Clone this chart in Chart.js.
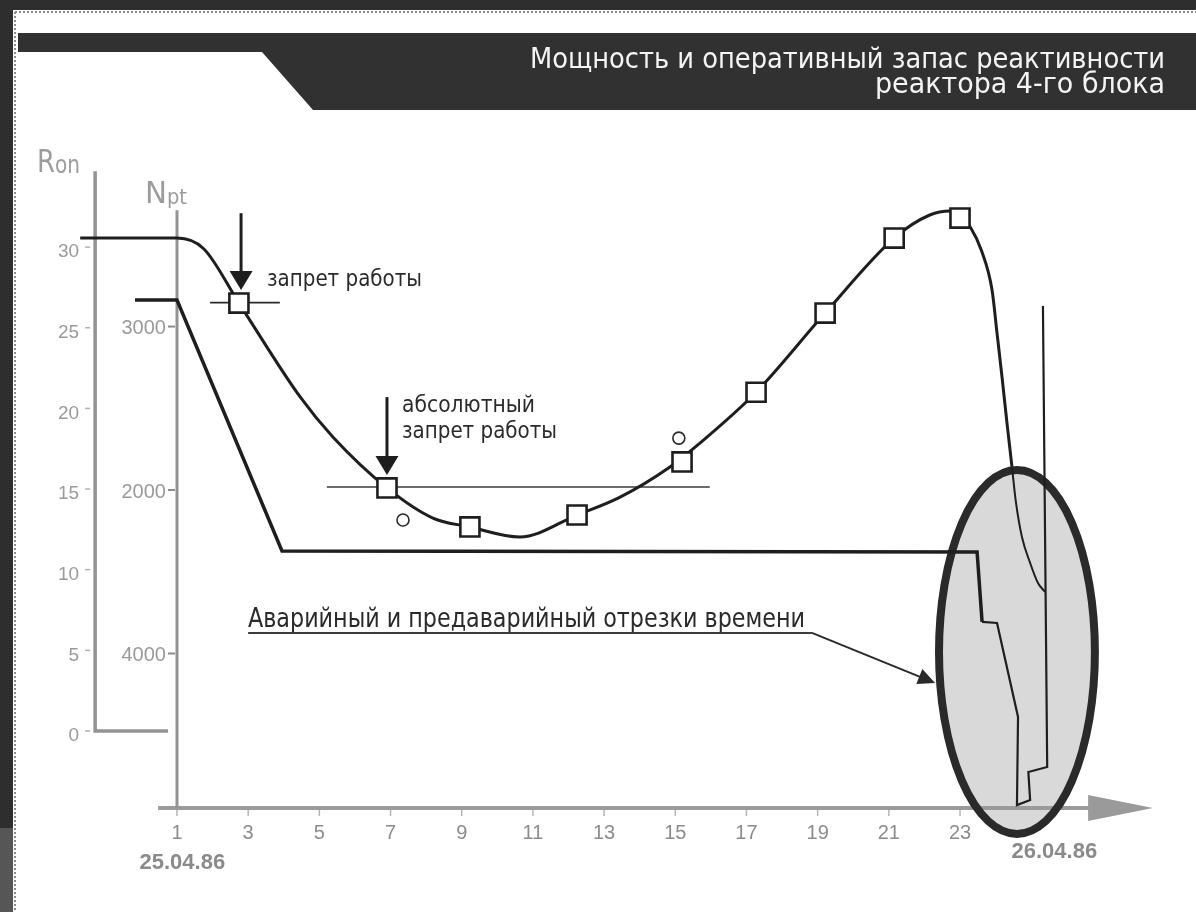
<!DOCTYPE html>
<html>
<head>
<meta charset="utf-8">
<title>Мощность и оперативный запас реактивности</title>
<script src="https://cdn.jsdelivr.net/npm/chart.js@4.4.1/dist/chart.umd.min.js"></script>
<style>
  html, body { margin: 0; padding: 0; background: #fff; }
  canvas { display: block; }
</style>
</head>
<body>
<canvas id="grafico" width="1196" height="912"></canvas>
<script>

// ---- data ----

const titleLines = ['Мощность и оперативный запас реактивности', 'реактора 4-го блока']

const hourTicks = [1, 3, 5, 7, 9, 11, 13, 15, 17, 19, 21, 23]
const dateStart = '25.04.86'
const dateEnd = '26.04.86'

const rTicks = [0, 5, 10, 15, 20, 25, 30]
const nTicks = [1000, 2000, 3000]
const nTickLabels = ['4000', '2000', '3000']

// R_on curve (operational reactivity margin)
const reactivityHours = [-1.72, 1.0, 1.75, 2.74, 4.46, 5.38, 6.9, 8.19, 9.23, 10.63, 12.24, 13.45,
  14.85, 15.7, 17.27, 19.21, 21.15, 22.15, 22.72, 23.0, 23.3, 23.6, 23.9, 24.04, 24.18, 24.32,
  24.46, 24.57, 24.74, 24.97, 25.19, 25.39]
const reactivityValues = [30.56, 30.56, 29.9, 26.53, 20.71, 18.23, 15.07, 13.2, 12.65, 12.03, 13.39, 14.5,
  16.37, 17.86, 21.0, 25.91, 30.56, 31.99, 32.24, 31.93, 31.2, 29.8, 27.34, 24.67, 21.95, 19.09,
  16.37, 14.2, 12.03, 10.42, 9.18, 8.62]

// measured points (squares) and the two circles
const squareHours = [2.74, 6.9, 9.23, 12.24, 15.19, 17.27, 19.21, 21.15, 23.0]
const squareValues = [26.53, 15.07, 12.65, 13.39, 16.68, 21.0, 25.91, 30.56, 31.8]
const circleHours = [7.35, 15.1]
const circleValues = [13.08, 18.16]

// N_pt curve (power)
const powerHours = [-0.18, 1.0, 3.95, 23.48, 23.62, 24.04, 24.63, 24.6, 24.97, 24.92, 25.45, 25.33]
const powerValues = [3162, 3162, 1627, 1621, 1193, 1187, 612, 73, 104, 275, 306, 3125]

// limit lines
const limitHighHours = [1.93, 3.89]
const limitHighValues = [26.56, 26.56]
const limitLowHours = [5.21, 15.97]
const limitLowValues = [15.13, 15.13]

// texts
const labelBan = 'запрет работы'
const labelAbsolute = ['абсолютный', 'запрет работы']
const labelEmergency = 'Аварийный и предаварийный отрезки времени'


// ---- drawing ----

const NARROW = '"Liberation Sans Narrow", "DejaVu Sans Condensed", "Liberation Sans", sans-serif'
const SANS = '"Liberation Sans", Arial, sans-serif'

function pontos(xs, ys) {
  return xs.map((x, i) => ({ x: x, y: ys[i] }))
}

// text squeezed/stretched to a given width
function texto(c, txt, x, y, width, font, color, align) {
  c.save()
  c.font = font
  c.fillStyle = color
  c.textBaseline = 'alphabetic'
  c.textAlign = align || 'left'
  const w = c.measureText(txt).width
  c.translate(x, y)
  c.scale(width / w, 1)
  c.fillText(txt, 0, 0)
  c.restore()
}

function seta(c, x1, y1, x2, y2, len, half, width, color) {
  const ang = Math.atan2(y2 - y1, x2 - x1)
  c.save()
  c.strokeStyle = color
  c.fillStyle = color
  c.lineWidth = width
  c.beginPath()
  c.moveTo(x1, y1)
  c.lineTo(x2 - Math.cos(ang) * len * 0.8, y2 - Math.sin(ang) * len * 0.8)
  c.stroke()
  c.beginPath()
  c.moveTo(x2, y2)
  c.lineTo(x2 - Math.cos(ang) * len - Math.sin(ang) * half, y2 - Math.sin(ang) * len + Math.cos(ang) * half)
  c.lineTo(x2 - Math.cos(ang) * len + Math.sin(ang) * half, y2 - Math.sin(ang) * len - Math.cos(ang) * half)
  c.closePath()
  c.fill()
  c.restore()
}

const desenho = {
  id: 'desenho',
  beforeDraw(chart) {
    const c = chart.ctx
    c.save()
    c.fillStyle = '#ffffff'
    c.fillRect(0, 0, 1196, 912)
    // outer dark frame
    c.fillStyle = '#2e2e2e'
    c.fillRect(0, 0, 1196, 10)
    c.fillRect(0, 0, 13, 912)
    c.fillStyle = '#565656'
    c.fillRect(0, 828, 13, 84)
    // dotted border
    c.strokeStyle = '#8a8a8a'
    c.lineWidth = 2
    c.setLineDash([2, 2])
    c.beginPath()
    c.moveTo(15, 12); c.lineTo(1196, 12)
    c.moveTo(15, 12); c.lineTo(15, 912)
    c.stroke()
    c.setLineDash([])
    // header band
    c.fillStyle = '#313131'
    c.beginPath()
    c.moveTo(18, 33)
    c.lineTo(1196, 33)
    c.lineTo(1196, 110)
    c.lineTo(313, 110)
    c.lineTo(262, 52)
    c.lineTo(18, 52)
    c.closePath()
    c.fill()
    c.restore()
    texto(c, titleLines[0], 1165, 68, 635, '28px ' + NARROW, '#f4f4f4', 'right')
    texto(c, titleLines[1], 1165, 93, 290, '28px ' + NARROW, '#f4f4f4', 'right')
  },
  beforeDatasetsDraw(chart) {
    const c = chart.ctx
    const sx = chart.scales.x, sr = chart.scales.yR, sn = chart.scales.yN
    const area = chart.chartArea

    // emergency ellipse
    const ex = sx.getPixelForValue(24.6), ey = sr.getPixelForValue(4.9)
    const erx = sx.getPixelForValue(24.6 + 2.19) - ex
    const ery = sr.getPixelForValue(4.9) - sr.getPixelForValue(4.9 + 11.28)
    c.save()
    c.fillStyle = '#d9d9d9'
    c.beginPath()
    c.ellipse(ex, ey, erx, ery, 0, 0, Math.PI * 2)
    c.fill()

    // x axis
    const y0 = area.bottom
    c.strokeStyle = '#9a9a9a'
    c.lineWidth = 4
    c.beginPath()
    c.moveTo(sx.getPixelForValue(0.47), y0)
    c.lineTo(sx.getPixelForValue(26.7), y0)
    c.stroke()
    c.fillStyle = '#9a9a9a'
    c.beginPath()
    c.moveTo(sx.getPixelForValue(26.6), y0 - 13)
    c.lineTo(sx.getPixelForValue(28.42), y0)
    c.lineTo(sx.getPixelForValue(26.6), y0 + 13)
    c.closePath()
    c.fill()
    c.lineWidth = 1.5
    c.strokeStyle = '#b5b5b5'
    c.font = '20px ' + SANS
    c.fillStyle = '#8c8c8c'
    c.textAlign = 'center'
    c.textBaseline = 'middle'
    hourTicks.forEach(h => {
      const px = sx.getPixelForValue(h)
      c.beginPath()
      c.moveTo(px, y0 + 2)
      c.lineTo(px, y0 + 8)
      c.stroke()
      c.fillText(String(h), px, y0 + 25)
    })
    c.font = 'bold 22px ' + SANS
    c.fillStyle = '#8a8a8a'
    c.fillText(dateStart, sx.getPixelForValue(1.15), y0 + 55)
    c.fillText(dateEnd, sx.getPixelForValue(25.65), y0 + 44)

    // R_on axis
    const rx = sx.getPixelForValue(-1.3)
    c.strokeStyle = '#939393'
    c.lineWidth = 3.5
    c.beginPath()
    c.moveTo(rx, sr.getPixelForValue(34.7))
    c.lineTo(rx, sr.getPixelForValue(0))
    c.lineTo(sx.getPixelForValue(0.75), sr.getPixelForValue(0))
    c.stroke()
    c.lineWidth = 1.5
    c.strokeStyle = '#b0b0b0'
    c.font = '19px ' + SANS
    c.fillStyle = '#9a9a9a'
    c.textAlign = 'right'
    rTicks.forEach(v => {
      const py = sr.getPixelForValue(v)
      c.beginPath()
      c.moveTo(rx - 10, py)
      c.lineTo(rx - 5, py)
      c.stroke()
      c.fillText(String(v), rx - 16, py + 5)
    })

    // N_pt axis
    const nx = sx.getPixelForValue(1.0)
    c.strokeStyle = '#939393'
    c.lineWidth = 3
    c.beginPath()
    c.moveTo(nx, sn.getPixelForValue(3712))
    c.lineTo(nx, y0)
    c.stroke()
    c.lineWidth = 2
    c.strokeStyle = '#8a8a8a'
    c.font = '20px ' + SANS
    c.fillStyle = '#9a9a9a'
    nTicks.forEach((v, i) => {
      const py = sn.getPixelForValue(v)
      c.beginPath()
      c.moveTo(nx - 9, py)
      c.lineTo(nx - 2, py)
      c.stroke()
      c.fillText(nTickLabels[i], nx - 11, py + 2)
    })

    // ellipse outline
    c.strokeStyle = '#2a2a2a'
    c.lineWidth = 8
    c.beginPath()
    c.ellipse(ex, ey, erx, ery, 0, 0, Math.PI * 2)
    c.stroke()
    c.restore()

    // axis names
    texto(c, 'R', 37, 172, 18, '32px ' + NARROW, '#9c9c9c')
    texto(c, 'on', 55, 173, 25, '24px ' + NARROW, '#9c9c9c')
    texto(c, 'N', 145, 203, 22, '30px ' + NARROW, '#9c9c9c')
    texto(c, 'pt', 167, 204, 20, '22px ' + NARROW, '#9c9c9c')
  },
  afterDatasetsDraw(chart) {
    const c = chart.ctx
    const sx = chart.scales.x, sr = chart.scales.yR

    // arrows to the two limits
    const a1 = sx.getPixelForValue(2.8)
    seta(c, a1, sr.getPixelForValue(32.1), a1, sr.getPixelForValue(27.34), 19, 11.5, 3, '#1e1e1e')
    const a2 = sx.getPixelForValue(6.9)
    seta(c, a2, sr.getPixelForValue(20.7), a2, sr.getPixelForValue(15.87), 19, 11.5, 3, '#1e1e1e')

    texto(c, labelBan, 267, 286, 155, '23px ' + NARROW, '#2a2a2a')
    texto(c, labelAbsolute[0], 402, 412, 133, '23px ' + NARROW, '#2a2a2a')
    texto(c, labelAbsolute[1], 402, 438, 155, '23px ' + NARROW, '#2a2a2a')

    // emergency label with underline and pointer
    texto(c, labelEmergency, 248, 627, 557, '27px ' + NARROW, '#2a2a2a')
    const uy = sr.getPixelForValue(6.08)
    c.save()
    c.strokeStyle = '#3a3a3a'
    c.lineWidth = 2
    c.beginPath()
    c.moveTo(sx.getPixelForValue(3.0), uy)
    c.lineTo(sx.getPixelForValue(18.84), uy)
    c.stroke()
    c.restore()
    seta(c, sx.getPixelForValue(18.84), uy, sx.getPixelForValue(22.3), sr.getPixelForValue(2.98), 17, 8, 2, '#2a2a2a')
  }
}

const data = {
  datasets: [
    {
      label: 'Измерения',
      data: pontos(squareHours, squareValues),
      yAxisID: 'yR',
      showLine: false,
      pointStyle: 'rect',
      pointRadius: 13.5,
      pointBorderWidth: 2.6,
      pointBackgroundColor: '#ffffff',
      pointBorderColor: '#1e1e1e'
    },
    {
      label: 'Кружки',
      data: pontos(circleHours, circleValues),
      yAxisID: 'yR',
      showLine: false,
      pointStyle: 'circle',
      pointRadius: 6,
      pointBorderWidth: 1.6,
      pointBackgroundColor: '#ffffff',
      pointBorderColor: '#2a2a2a'
    },
    {
      label: 'Ron',
      data: pontos(reactivityHours, reactivityValues),
      yAxisID: 'yR',
      borderColor: '#1e1e1e',
      borderWidth: 3,
      pointRadius: 0,
      cubicInterpolationMode: 'monotone',
      segment: {
        borderWidth: ctx => ctx.p0.parsed.x > 24.4 ? 2 : 3
      }
    },
    {
      label: 'Npt',
      data: pontos(powerHours, powerValues),
      yAxisID: 'yN',
      borderColor: '#1e1e1e',
      borderWidth: 3.5,
      pointRadius: 0,
      tension: 0,
      segment: {
        borderWidth: ctx => ctx.p0.parsed.x > 23.5 ? 2.2 : 3.5
      }
    },
    {
      label: 'limite 1',
      data: pontos(limitHighHours, limitHighValues),
      yAxisID: 'yR',
      borderColor: '#2a2a2a',
      borderWidth: 1.6,
      pointRadius: 0
    },
    {
      label: 'limite 2',
      data: pontos(limitLowHours, limitLowValues),
      yAxisID: 'yR',
      borderColor: '#3a3a3a',
      borderWidth: 1.6,
      pointRadius: 0
    }
  ]
}

const config = {
  type: 'line',
  data: data,
  plugins: [desenho],
  options: {
    responsive: false,
    animation: false,
    devicePixelRatio: 1,
    events: [],
    layout: {
      padding: { left: 60, right: 26, top: 140, bottom: 104 }
    },
    plugins: {
      legend: { display: false },
      tooltip: { enabled: false }
    },
    scales: {
      x: { type: 'linear', min: -2.287, max: 28.9, display: false },
      yR: { type: 'linear', axis: 'y', min: -4.774, max: 36.64, display: false },
      yN: { type: 'linear', axis: 'y', min: 55, max: 4141, display: false }
    }
  }
}

new Chart(document.getElementById('grafico'), config)
</script>
</body>
</html>
